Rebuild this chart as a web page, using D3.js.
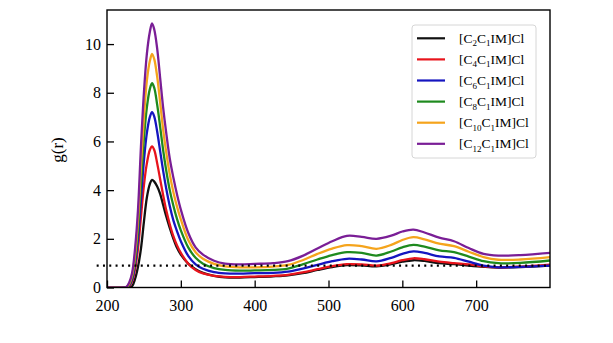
<!DOCTYPE html>
<html>
<head>
<meta charset="utf-8">
<script src="https://cdn.jsdelivr.net/npm/d3@7"></script>
<style>
html,body{margin:0;padding:0;background:#fff;}
svg{display:block;}
</style>
</head>
<body>
<svg id="chart" width="613" height="343"></svg>
<script>
// ---- data ----
const rValues = [200, 220, 226, 230, 234, 238, 242, 246, 250, 254, 258, 261, 264, 268, 272, 276, 280, 285, 290, 295, 300, 310, 320, 330, 345, 360, 380, 400, 425, 445, 465, 485, 505, 525, 545, 565, 585, 600, 615, 630, 650, 670, 690, 710, 730, 760, 800];

const gC2 = [0, 0, 0, 0, 0.05, 0.35, 0.85, 1.6, 2.7, 3.7, 4.25, 4.42, 4.35, 4.15, 3.85, 3.4, 2.95, 2.45, 2.0, 1.62, 1.35, 0.98, 0.75, 0.6, 0.48, 0.42, 0.41, 0.43,
  0.46, 0.5, 0.59, 0.72, 0.84, 0.92, 0.91, 0.87, 0.96, 1.06, 1.12, 1.09, 1.0, 0.96, 0.9, 0.85, 0.82, 0.84, 0.9];
const gC4 = [0, 0, 0, 0.05, 0.25, 0.75, 1.6, 2.9, 4.2, 5.1, 5.65, 5.8, 5.65, 5.1, 4.45, 3.8, 3.2, 2.6, 2.1, 1.72, 1.42, 0.98, 0.72, 0.58, 0.48, 0.44, 0.43, 0.45,
  0.48, 0.52, 0.62, 0.75, 0.88, 0.96, 0.95, 0.9, 1.0, 1.12, 1.2, 1.16, 1.06, 1.0, 0.95, 0.87, 0.83, 0.86, 0.94];
const gC6 = [0, 0, 0, 0.08, 0.33, 0.95, 2.0, 3.6, 5.2, 6.35, 7.0, 7.2, 7.02, 6.4, 5.6, 4.8, 4.1, 3.35, 2.75, 2.3, 1.9, 1.3, 0.95, 0.77, 0.63, 0.58, 0.57, 0.59,
  0.6, 0.65, 0.78, 0.93, 1.08, 1.18, 1.15, 1.07, 1.22, 1.38, 1.48, 1.42, 1.28, 1.22, 1.06, 0.9, 0.83, 0.85, 0.9];
const gC8 = [0, 0, 0.01, 0.12, 0.42, 1.15, 2.4, 4.3, 6.1, 7.4, 8.15, 8.39, 8.2, 7.5, 6.6, 5.65, 4.85, 4.0, 3.35, 2.8, 2.35, 1.65, 1.22, 0.98, 0.8, 0.72, 0.69, 0.7,
  0.72, 0.78, 0.95, 1.15, 1.33, 1.45, 1.42, 1.31, 1.48, 1.65, 1.75, 1.68, 1.53, 1.45, 1.27, 1.08, 1.0, 1.01, 1.11];
const gC10 = [0, 0, 0.01, 0.15, 0.5, 1.35, 2.8, 5.0, 7.0, 8.5, 9.3, 9.6, 9.38, 8.65, 7.6, 6.5, 5.6, 4.65, 3.9, 3.3, 2.8, 1.95, 1.45, 1.18, 0.97, 0.87, 0.83, 0.83,
  0.86, 0.93, 1.12, 1.38, 1.6, 1.74, 1.7, 1.59, 1.75, 1.95, 2.07, 1.98, 1.8, 1.7, 1.47, 1.25, 1.14, 1.15, 1.25];
const gC12 = [0, 0, 0.02, 0.2, 0.6, 1.6, 3.2, 5.8, 8.0, 9.6, 10.5, 10.85, 10.6, 9.8, 8.6, 7.4, 6.4, 5.3, 4.5, 3.8, 3.2, 2.25, 1.65, 1.35, 1.1, 0.98, 0.95, 0.97,
  1.0, 1.08, 1.3, 1.6, 1.9, 2.12, 2.08, 2.0, 2.13, 2.3, 2.38, 2.26, 2.05, 1.9, 1.62, 1.38, 1.31, 1.33, 1.42];

const seriesValues = [gC2, gC4, gC6, gC8, gC10, gC12];
const chainSubscripts = ["2", "4", "6", "8", "10", "12"];
const seriesColors = ["#111111", "#e8141c", "#1515c0", "#1e8a1e", "#f5a41c", "#7a1e96"];
const refLine = 0.9;
const refRange = [186, 800];
const xTicks = [200, 300, 400, 500, 600, 700];
const yTicks = [0, 2, 4, 6, 8, 10];

// ---- layout ----
const svg = d3.select("#chart");
const L = 107, R = 550, T = 10, B = 287.5;
const x = d3.scaleLinear().domain([200, 800]).range([L, R]);
const y = d3.scaleLinear().domain([0, 11.4]).range([B, T]);
const font = "'Liberation Serif', 'Times New Roman', serif";

svg.append("clipPath").attr("id", "clip")
  .append("rect").attr("x", L).attr("y", T).attr("width", R - L).attr("height", B - T);

const lineGen = d3.line()
  .x((d, i) => x(rValues[i]))
  .y(d => y(d))
  .curve(d3.curveCatmullRom.alpha(0.5));

const g = svg.append("g").attr("clip-path", "url(#clip)");
seriesValues.forEach((vals, k) => {
  g.append("path")
    .datum(vals)
    .attr("d", lineGen)
    .attr("fill", "none")
    .attr("stroke", seriesColors[k])
    .attr("stroke-width", 2.3)
    .attr("stroke-linejoin", "round");
});

// dotted reference line
svg.append("line")
  .attr("x1", x(refRange[0])).attr("x2", x(refRange[1]))
  .attr("y1", y(refLine)).attr("y2", y(refLine))
  .attr("stroke", "#000").attr("stroke-width", 2.2)
  .attr("stroke-dasharray", "2,4.3");

// axes
const xAxis = svg.append("g").attr("transform", `translate(0,${B})`)
  .call(d3.axisBottom(x).tickValues(xTicks).tickSizeInner(-7).tickSizeOuter(0).tickPadding(12));
const yAxis = svg.append("g").attr("transform", `translate(${L},0)`)
  .call(d3.axisLeft(y).tickValues(yTicks).tickSizeInner(-7).tickSizeOuter(0).tickPadding(6));
[xAxis, yAxis].forEach(a => {
  a.attr("font-family", font).attr("font-size", 16);
  a.select(".domain").remove();
  a.selectAll(".tick line").attr("stroke", "#000").attr("stroke-width", 1.3);
  a.selectAll(".tick text").attr("font-family", font).attr("font-size", 16).attr("fill", "#000");
});

// frame
svg.append("rect").attr("x", L).attr("y", T).attr("width", R - L).attr("height", B - T)
  .attr("fill", "none").attr("stroke", "#000").attr("stroke-width", 1.4);

// y label
svg.append("text")
  .attr("transform", "translate(63,150) rotate(-90)")
  .attr("text-anchor", "middle")
  .attr("font-family", font).attr("font-size", 17)
  .text("g(r)");

// legend
const lg = svg.append("g");
lg.append("rect").attr("x", 412).attr("y", 25).attr("width", 124).attr("height", 133)
  .attr("rx", 3).attr("fill", "#fff").attr("stroke", "#d6d6d6").attr("stroke-width", 1);
chainSubscripts.forEach((s, k) => {
  const yy = 38.3 + k * 21.1;
  lg.append("line").attr("x1", 417).attr("x2", 445).attr("y1", yy).attr("y2", yy)
    .attr("stroke", seriesColors[k]).attr("stroke-width", 2.2);
  const t = lg.append("text").attr("x", 459).attr("y", yy + 4.5)
    .attr("font-family", font).attr("font-size", 13.5).attr("fill", "#000");
  t.append("tspan").text("[C");
  t.append("tspan").attr("font-size", 9).attr("dy", 3.5).text(s);
  t.append("tspan").attr("dy", -3.5).text("C");
  t.append("tspan").attr("font-size", 9).attr("dy", 3.5).text("1");
  t.append("tspan").attr("dy", -3.5).text("IM]Cl");
});
</script>
</body>
</html>
